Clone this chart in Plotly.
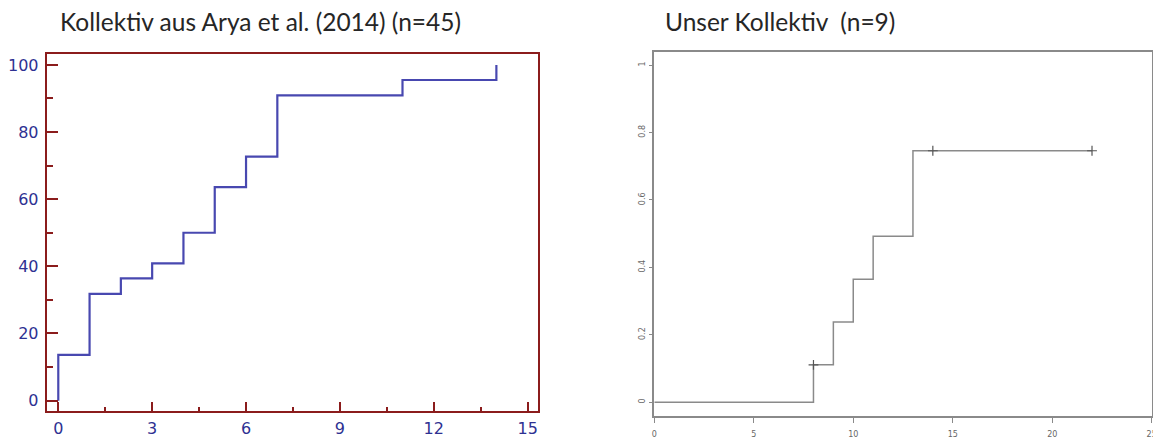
import plotly.graph_objects as go

# Left panel: Arya et al. (2014), cumulative incidence in %
arya_times = [0, 1, 2, 3, 4, 5, 6, 7, 11, 14]
arya_values = [13.6, 31.8, 36.4, 40.9, 50.0, 63.6, 72.7, 90.9, 95.5, 100.0]
left_xticks = [0, 3, 6, 9, 12, 15]
left_yticks = [0, 20, 40, 60, 80, 100]

# Right panel: own cohort (n=9), cumulative incidence as fraction
own_times = [8, 9, 10, 11, 13]
own_values = [0.111, 0.238, 0.365, 0.492, 0.746]
own_end_time = 22
censor_times = [8, 14, 22]
censor_values = [0.111, 0.746, 0.746]
right_xticks = [0, 5, 10, 15, 20, 25]
right_yticks = [0, 0.2, 0.4, 0.6, 0.8, 1]

title_left = "Kollektiv aus Arya et al. (2014) (n=45)"
title_right = "Unser Kollektiv  (n=9)"

W, H = 1153, 439
MAROON = "#8b1c1c"
BLUE_LINE = "#4848b0"
BLUE_TXT = "#2e3192"
GRAY = "#8a8a8a"

fig = go.Figure()

fig.add_trace(go.Scatter(
    x=[0] + arya_times, y=[0] + arya_values,
    mode="lines", line=dict(shape="hv", color=BLUE_LINE, width=2.2),
    xaxis="x", yaxis="y", showlegend=False, hoverinfo="skip"))

fig.add_trace(go.Scatter(
    x=[0] + own_times + [own_end_time], y=[0] + own_values + [own_values[-1]],
    mode="lines", line=dict(shape="hv", color=GRAY, width=1.5),
    xaxis="x2", yaxis="y2", showlegend=False, hoverinfo="skip"))

fig.add_trace(go.Scatter(
    x=censor_times, y=censor_values, mode="markers",
    marker=dict(symbol="cross-thin", size=7, line=dict(color="#555555", width=1.2)),
    xaxis="x2", yaxis="y2", showlegend=False, hoverinfo="skip"))

def px_x(p):
    return p / W

def px_y(p):
    return 1 - p / H

fig.update_layout(
    width=W, height=H,
    margin=dict(l=0, r=0, t=0, b=0),
    paper_bgcolor="white", plot_bgcolor="white",
    xaxis=dict(
        domain=[px_x(46.7), px_x(538)], range=[-0.37, 15.33],
        tickvals=left_xticks, ticks="inside", ticklen=9, tickwidth=2, tickcolor=MAROON,
        minor=dict(dtick=1.5, tick0=0, ticks="inside", ticklen=4, tickwidth=1.5, tickcolor=MAROON),
        showline=True, linecolor=MAROON, linewidth=2, mirror=True,
        showgrid=False, zeroline=False, ticklabelstandoff=2, automargin=False,
        tickfont=dict(family="DejaVu Sans", size=16, color=BLUE_TXT),
        anchor="y"),
    yaxis=dict(
        domain=[px_y(410.7), px_y(53.5)], range=[-3.0, 103.4],
        tickvals=left_yticks, ticks="inside", ticklen=11, tickwidth=2, tickcolor=MAROON,
        minor=dict(dtick=10, tick0=0, ticks="inside", ticklen=6, tickwidth=1.5, tickcolor=MAROON),
        showline=True, linecolor=MAROON, linewidth=2, mirror=True,
        showgrid=False, zeroline=False, ticklabelstandoff=3, automargin=False,
        tickfont=dict(family="DejaVu Sans", size=16, color=BLUE_TXT),
        anchor="x"),
    xaxis2=dict(
        domain=[px_x(654.3), px_x(1151.7)], range=[0, 25],
        tickvals=right_xticks, ticks="outside", ticklen=5, tickwidth=1, tickcolor=GRAY,
        showline=True, linecolor=GRAY, linewidth=1.6, mirror=True,
        showgrid=False, zeroline=False, ticklabelstandoff=5, ticklabeloverflow="allow",
        automargin=False,
        tickfont=dict(family="DejaVu Sans", size=8, color="#666666"),
        anchor="y2"),
    yaxis2=dict(
        domain=[px_y(415.7), px_y(52.3)], range=[-0.04, 1.038],
        tickvals=right_yticks, ticktext=["0", "0.2", "0.4", "0.6", "0.8", "1"],
        ticks="outside", ticklen=4, tickwidth=1, tickcolor=GRAY, tickangle=-90,
        showline=True, linecolor=GRAY, linewidth=1.6, mirror=True,
        showgrid=False, zeroline=False, automargin=False,
        tickfont=dict(family="DejaVu Sans", size=8, color="#666666"),
        anchor="x2"),
    annotations=[
        dict(text=title_left, xref="paper", yref="paper", x=px_x(58), y=px_y(22),
             xanchor="left", yanchor="middle", showarrow=False,
             font=dict(family="Lato", size=24.5, color="#262626")),
        dict(text=title_right, xref="paper", yref="paper", x=px_x(663), y=px_y(22),
             xanchor="left", yanchor="middle", showarrow=False,
             font=dict(family="Lato", size=24.5, color="#262626")),
    ],
)

fig.write_html("out.html")
